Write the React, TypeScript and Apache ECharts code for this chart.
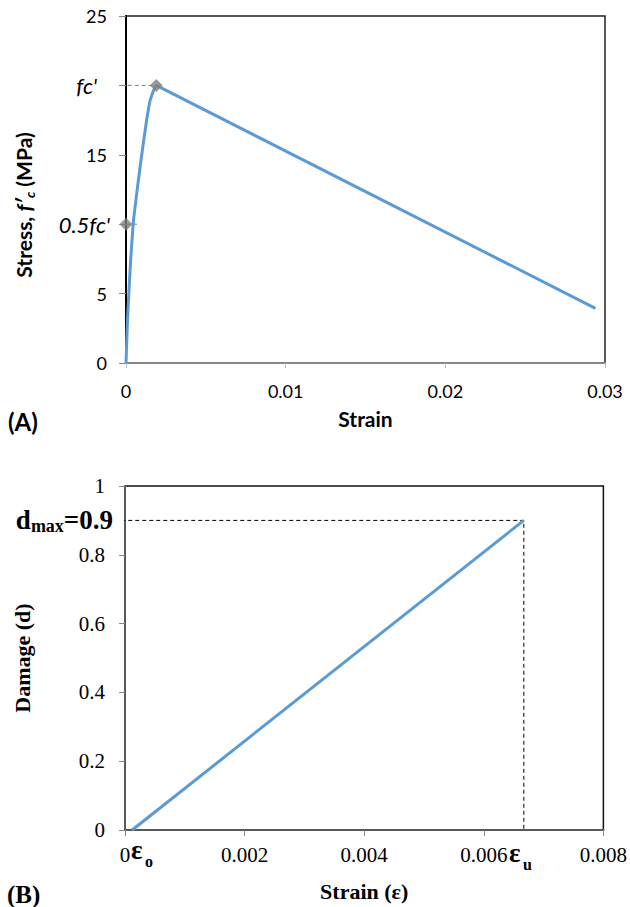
import React, { useEffect, useRef } from "react";
import * as echarts from "echarts";

// ---- Chart (A): stress-strain ----
const strainA = [0, 0.0001, 0.00029, 0.00046, 0.00067, 0.00088, 0.00108, 0.00129, 0.0015, 0.00171, 0.0019, 0.0294];
const stressA = [0, 3.3, 7.4, 10.2, 12.2, 14.1, 15.8, 17.5, 18.9, 19.6, 20.0, 3.94];
const peakStrain = 0.0019;
const peakStress = 20;
const halfStress = 10;

// ---- Chart (B): damage-strain ----
const strainB = [0.00012, 0.00667];
const damageB = [0, 0.9];
const dMax = 0.9;
const epsU = 0.00667;

const BLUE = "#5B9BD5";
const SANS = "Lato, 'Open Sans', sans-serif";
const SERIF = "'Liberation Serif', 'DejaVu Serif', serif";

export default function App() {
  const ref = useRef<HTMLDivElement>(null);
  useEffect(() => {
    if (!ref.current) return;
    const chart = echarts.init(ref.current, null, { renderer: "svg" });
    const fmt = (v: number) => (v === 0 ? "0" : String(+v.toFixed(4)));
    const yLabelA = (v: number) => {
      if (v === 20) return "{i1|fc'}";
      if (v === 10) return "{i2|0.5fc'}";
      return `{n|${v}}`;
    };
    chart.setOption({
      animation: false,
      backgroundColor: "#fff",
      grid: [
        { left: 126, top: 16, width: 479, height: 347, show: true, borderColor: "#222", borderWidth: 1.5, backgroundColor: "transparent" },
        { left: 125, top: 486, width: 479, height: 344, show: true, borderColor: "#111", borderWidth: 1.5, backgroundColor: "transparent" },
      ],
      xAxis: [
        {
          gridIndex: 0, type: "value", min: 0, max: 0.03, interval: 0.01,
          splitLine: { show: false },
          axisLine: { lineStyle: { color: "#868686", width: 2 } },
          axisTick: { show: true, length: 5, lineStyle: { color: "#bfbfbf" } },
          axisLabel: { formatter: fmt, color: "#000", fontFamily: SANS, fontSize: 18, margin: 19 },
          name: "Strain", nameLocation: "middle", nameGap: 45,
          nameTextStyle: { fontFamily: SANS, fontWeight: "bold", fontSize: 21, color: "#000" },
        },
        {
          gridIndex: 1, type: "value", min: 0, max: 0.008, interval: 0.002,
          splitLine: { show: false },
          axisLine: { lineStyle: { color: "#595959", width: 2 } },
          axisTick: { show: true, length: 6, lineStyle: { color: "#868686" } },
          axisLabel: { formatter: fmt, color: "#000", fontFamily: SERIF, fontSize: 21, margin: 14 },
          name: "Strain (ε)", nameLocation: "middle", nameGap: 50,
          nameTextStyle: { fontFamily: SERIF, fontWeight: "bold", fontSize: 22, color: "#000" },
        },
      ],
      yAxis: [
        {
          gridIndex: 0, type: "value", min: 0, max: 25, interval: 5,
          splitLine: { show: false },
          axisLine: { lineStyle: { color: "#000", width: 2 } },
          axisTick: { show: true, length: 7, lineStyle: { color: "#868686" } },
          axisLabel: {
            color: "#000", fontFamily: SANS, fontSize: 18, margin: 16,
            formatter: yLabelA,
            rich: {
              n: { fontFamily: SANS, fontSize: 18, color: "#000", padding: [0, 3, 0, 0] },
              i1: { fontStyle: "italic", fontFamily: SANS, fontSize: 22, color: "#000", padding: [0, 13, 0, 0] },
              i2: { fontStyle: "italic", fontFamily: SANS, fontSize: 22, color: "#000" },
            },
          },
        },
        {
          gridIndex: 1, type: "value", min: 0, max: 1, interval: 0.2,
          splitLine: { show: false },
          axisLine: { lineStyle: { color: "#595959", width: 2 } },
          axisTick: { show: true, length: 6, lineStyle: { color: "#868686" } },
          axisLabel: { formatter: fmt, color: "#000", fontFamily: SERIF, fontSize: 21, margin: 20 },
          name: "Damage (d)", nameLocation: "middle", nameGap: 92, nameRotate: 90,
          nameTextStyle: { fontFamily: SERIF, fontWeight: "bold", fontSize: 22, color: "#000" },
        },
      ],
      series: [
        {
          type: "line", xAxisIndex: 0, yAxisIndex: 0, clip: false, z: 1,
          data: [[-0.0012, peakStress], [peakStrain, peakStress]],
          showSymbol: false, lineStyle: { color: "#7f7f7f", width: 1, type: [4, 3] },
        },
        {
          type: "line", xAxisIndex: 0, yAxisIndex: 0, clip: false, z: 1,
          data: [[0, halfStress], [0.0007, halfStress]],
          showSymbol: false, lineStyle: { color: "#7f7f7f", width: 1, type: [4, 3] },
        },
        {
          type: "line", xAxisIndex: 0, yAxisIndex: 0, clip: false, z: 2,
          data: strainA.map((x, i) => [x, stressA[i]]),
          showSymbol: false, lineStyle: { color: BLUE, width: 3 },
        },
        {
          type: "scatter", xAxisIndex: 0, yAxisIndex: 0, clip: false, z: 3,
          data: [[peakStrain, peakStress], [0, halfStress]],
          symbol: "diamond", symbolSize: 13, itemStyle: { color: "#7f7f7f" },
        },
        {
          type: "line", xAxisIndex: 1, yAxisIndex: 1, clip: false, z: 1,
          data: [[-0.00018, dMax], [epsU, dMax], [epsU, 0]],
          showSymbol: false, lineStyle: { color: "#000", width: 1, type: [4, 3] },
        },
        {
          type: "line", xAxisIndex: 1, yAxisIndex: 1, clip: false, z: 2,
          data: strainB.map((x, i) => [x, damageB[i]]),
          showSymbol: false, lineStyle: { color: BLUE, width: 3 },
        },
      ],
      graphic: [
        {
          type: "text", x: 23, y: 205, rotation: Math.PI / 2,
          style: {
            text: "{a|Stress, }{f|f′}{s|c}{a| (MPa)}", align: "center", verticalAlign: "middle",
            rich: {
              a: { fontFamily: SANS, fontWeight: "bold", fontSize: 21, fill: "#000", lineHeight: 26, verticalAlign: "middle" },
              f: { fontFamily: SANS, fontWeight: "bold", fontStyle: "italic", fontSize: 21, fill: "#000", lineHeight: 26, verticalAlign: "middle" },
              s: { fontFamily: SANS, fontWeight: "bold", fontStyle: "italic", fontSize: 14, fill: "#000", lineHeight: 14, verticalAlign: "bottom" },
            },
          },
        },
        { type: "text", left: 8, top: 409, style: { text: "(A)", font: `bold 24px ${SANS}`, fill: "#000" } },
        { type: "text", left: 7, top: 882, style: { text: "(B)", font: `bold 25px ${SERIF}`, fill: "#000" } },
        {
          type: "text", x: 113, y: 520,
          style: {
            text: "{d|d}{s|max}{d|=0.9}", align: "right", verticalAlign: "middle",
            rich: {
              d: { fontFamily: SERIF, fontWeight: "bold", fontSize: 27, fill: "#000", lineHeight: 30, verticalAlign: "middle" },
              s: { fontFamily: SERIF, fontWeight: "bold", fontSize: 18, fill: "#000", lineHeight: 16, verticalAlign: "bottom" },
            },
          },
        },
        { type: "text", x: 131, y: 850, style: { text: "ε", font: `bold 27px ${SERIF}`, fill: "#000", align: "left", verticalAlign: "middle" } },
        { type: "text", x: 145, y: 861, style: { text: "o", font: `bold 16px ${SERIF}`, fill: "#000", align: "left", verticalAlign: "middle" } },
        { type: "text", x: 509, y: 853, style: { text: "ε", font: `bold 27px ${SERIF}`, fill: "#000", align: "left", verticalAlign: "middle" } },
        { type: "text", x: 523, y: 864, style: { text: "u", font: `bold 16px ${SERIF}`, fill: "#000", align: "left", verticalAlign: "middle" } },
      ],
    });
    return () => chart.dispose();
  }, []);
  return <div ref={ref} style={{ position: "fixed", left: 0, top: 0, width: 630, height: 907 }} />;
}
